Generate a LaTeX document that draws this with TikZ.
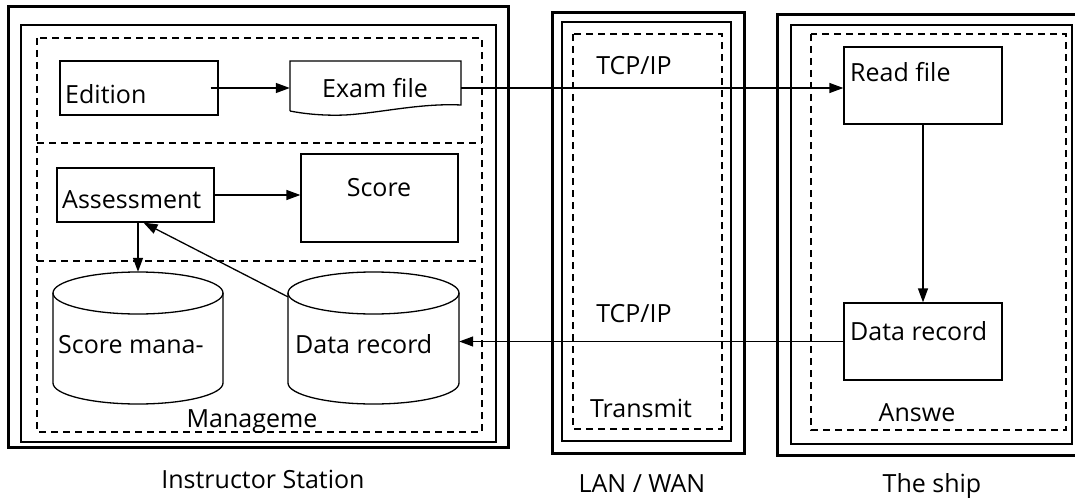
\documentclass[tikz,border=0pt]{standalone}
\usepackage{fontspec}
\setmainfont{Open Sans}
\usetikzlibrary{arrows.meta,calc}
\begin{document}
\begin{tikzpicture}[x=1pt,y=-1pt,
  outerframe/.style={line width=3pt},
  midframe/.style={line width=2.5pt},
  grp/.style={line width=1.5pt, dash pattern=on 7pt off 5pt},
  box/.style={draw, line width=1.3pt, rectangle, inner sep=0pt},
  ghost/.style={rectangle, inner sep=0pt},
  arr/.style={-{Triangle[length=14pt,width=10pt]}, line width=1.3pt},
  txt/.style={font=\fontsize{25}{30}\selectfont, inner sep=0pt}
]
\useasboundingbox (0,0) rectangle (1075,500);

% ---------- frames ----------
\draw[outerframe] (8,7) rectangle (508,447);
\draw[midframe] (21,25) rectangle (496,442);
\draw[grp] (37,38) rectangle (482,432);
\draw[grp] (37,143) -- (482,143);
\draw[grp] (37,261) -- (482,261);

\draw[outerframe] (552,13) rectangle (744,453);
\draw[midframe] (562,22) rectangle (731,441);
\draw[grp] (573,34) rectangle (722,429);

\draw[outerframe] (777,15) rectangle (1078,455);
\draw[midframe] (791,25) rectangle (1072,444);
\draw[grp] (811,34) rectangle (1066,430);

% ---------- boxes ----------
\node[box, minimum width=158pt, minimum height=54pt] (edition) at (139,88) {};
\node[txt, anchor=base west] (editiont) at (65,104) {Edition};

\node[ghost, minimum width=171pt, minimum height=54pt] (exam) at (375.5,88) {};
\draw[line width=1.3pt] (290,111) -- (290,61) -- (461,61) -- (461,105)
  .. controls (420,103) and (380,113) .. (345,115)
  .. controls (320,116) and (300,113) .. (290,111);
\node[txt, anchor=base] (examt) at (375,98) {Exam file};

\node[box, minimum width=157pt, minimum height=54pt] (assess) at (135.5,195) {};
\node[txt, anchor=base west] (assesst) at (62,208) {Assessment};

\node[box, minimum width=157pt, minimum height=88pt] (score) at (379.5,198) {};
\node[txt, anchor=base] (scoret) at (379,196) {Score};

\node[box, minimum width=158pt, minimum height=77pt] (read) at (923,85.5) {};
\node[txt, anchor=base west] (readt) at (850,82) {Read file};

\node[box, minimum width=158pt, minimum height=77pt] (shipdr) at (923,341.5) {};
\node[txt, anchor=base west] (shipdrt) at (850,340) {Data record};

% ---------- cylinders ----------
\newcommand{\mycyl}[2]{%
  \draw[line width=1.3pt] (#1-#2,293) -- (#1-#2,383)
    arc[start angle=180, end angle=360, x radius=#2pt, y radius=21pt]
    -- (#1+#2,293);
  \draw[line width=1.3pt] (#1,293) ellipse[x radius=#2pt, y radius=21pt];
}
\mycyl{138}{85}
\node[ghost, minimum width=170pt, minimum height=132pt] (scoremg) at (138,338) {};
\node[txt, anchor=base west] (scoremgt) at (58,353) {Score mana-};

\mycyl{373.5}{85.5}
\node[ghost, minimum width=171pt, minimum height=132pt] (datarec) at (373.5,338) {};
\node[txt, anchor=base west] (datarect) at (295,353) {Data record};

% ---------- labels ----------
\node[txt, anchor=base] (tcp1) at (634,75) {TCP/IP};
\node[txt, anchor=base] (tcp2) at (634,322) {TCP/IP};
\node[txt, anchor=base] (transmit) at (641,417) {Transmit};
\node[txt, anchor=base] (answe) at (917,421) {Answe};
\node[txt, anchor=base] (manage) at (252,427) {Manageme};
\node[txt, anchor=base] (instr) at (263,488) {Instructor Station};
\node[txt, anchor=base] (lan) at (642,492) {LAN / WAN};
\node[txt, anchor=base] (ship) at (932,492) {The ship};

% ---------- connectors ----------
\draw[arr] ([xshift=-8pt]edition.east) -- (exam.west);
\draw[arr] (exam.east) -- (read.west |- exam.east);
\draw[arr] (read.south) -- (shipdr.north);
\draw[arr] (shipdr.west) -- (datarec.east |- shipdr.west);
\draw[arr] (assess.east) -- (score.west |- assess.east);
\draw[arr] (assess.south -| scoremg.north) -- (scoremg.north);
\draw[arr] ([yshift=-25pt]datarec.north west) -- ([xshift=8pt]assess.south);
\end{tikzpicture}
\end{document}
